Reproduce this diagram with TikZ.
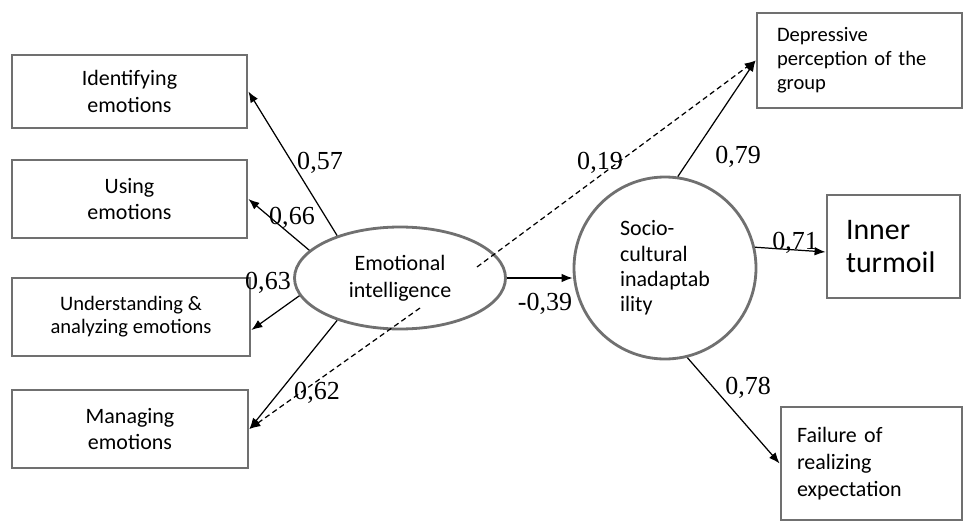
\documentclass[tikz,border=0pt]{standalone}
\usepackage{fontspec}
\setmainfont{Carlito}
\newfontfamily\numfont{Liberation Serif}
\usetikzlibrary{arrows.meta,positioning,shapes,calc}
\definecolor{bgray}{HTML}{707070}

\begin{document}
\begin{tikzpicture}[
  ind/.style={draw=bgray,line width=1.6pt,fill=white,minimum width=4.70cm,
              minimum height=1.56cm,inner sep=0pt,align=center,
              font=\fontsize{12.5}{15.3}\selectfont},
  outc/.style={draw=bgray,line width=1.6pt,fill=white,inner ysep=0pt,align=left,
               font=\fontsize{12.5}{15.3}\selectfont},
  lat/.style={ellipse,draw=bgray,line width=1.6pt,fill=white,inner sep=0pt,
              minimum width=4.22cm,minimum height=2.04cm,align=center,
              font=\fontsize{12.5}{15.3}\selectfont},
  crc/.style={circle,draw=bgray,line width=1.6pt,fill=white,inner sep=0pt,
              minimum size=3.64cm,align=left,font=\fontsize{12.5}{14.4}\selectfont},
  arr/.style={-{Latex[length=2.2mm,width=1.7mm]},line width=0.7pt},
  dsh/.style={arr,densely dashed},
  wt/.style={font=\numfont\fontsize{14.8}{16}\selectfont,inner sep=0pt}]
\useasboundingbox (0,0) rectangle (19.28,10.44);

% ---------------- indicators of emotional intelligence ----------------
\node[ind,minimum height=1.46cm] (ide) at (2.59,8.61) {Identifying\\emotions};
\node[ind] (use) at (2.59,6.46) {Using\\emotions};
\node[ind,minimum width=4.76cm,font=\fontsize{11.7}{13.2}\selectfont] (und) at (2.62,4.10)
  {Understanding \&\\analyzing emotions};
\node[ind,minimum width=4.72cm] (man) at (2.60,1.86) {Managing\\emotions};

% ---------------- latent variables ----------------
\node[lat] (ei) at (8.00,4.88) {Emotional\\intelligence};
\node[crc] (sci) at (13.30,5.08) {Socio-\\cultural\\inadaptab\\ility};
\coordinate (eiA) at ($(ei.center)+(0.40,-0.60)$);
\coordinate (eiB) at ($(ei.center)+(1.54,0.22)$);

% ---------------- outcomes ----------------
\node[outc,text width=3.30cm,inner xsep=0.40cm,minimum height=1.90cm,
      font=\fontsize{11.7}{13.7}\selectfont] (dep) at (17.19,9.23)
  {Depressive\\perception of the\\group};
\node[outc,text width=1.90cm,inner xsep=0.38cm,minimum height=2.06cm,
      font=\fontsize{17}{18.3}\selectfont] (inn) at (17.87,5.51) {Inner\\turmoil};
\node[outc,text width=2.98cm,inner xsep=0.32cm,minimum height=2.26cm] (fai) at (17.43,1.17)
  {Failure of\\realizing\\expectation};

% ---------------- paths ----------------
\draw[arr] (ei.146) -- (ide.east);
\draw[arr] (ei.163) -- (use.east);
\draw[arr] (ei.190) -- ([yshift=-0.26cm]und.east);
\draw[arr] (ei.214) -- (man.east);
\draw[dsh] (eiA) -- (man.east);
\draw[dsh] (eiB) -- (dep.west);
\draw[arr] (ei.east) -- (ei.east -| sci.west);
\draw[arr] (sci.82) -- (dep.west);
\draw[arr] (sci.13) -- ([yshift=-0.11cm]inn.west);
\draw[arr] (sci.-76) -- (fai.west);

% ---------------- weights ----------------
\node[wt] (w57) at (6.40,7.18) {0,57};
\node[wt] (w66) at (5.84,6.08) {0,66};
\node[wt] (w63) at (5.36,4.78) {0,63};
\node[wt] (w62) at (6.34,2.58) {0,62};
\node[wt] (w39) at (10.90,4.36) {-0,39};
\node[wt] (w19) at (12.00,7.18) {0,19};
\node[wt] (w79) at (14.76,7.30) {0,79};
\node[wt] (w71) at (15.90,5.58) {0,71};
\node[wt] (w78) at (14.96,2.68) {0,78};
\end{tikzpicture}
\end{document}
